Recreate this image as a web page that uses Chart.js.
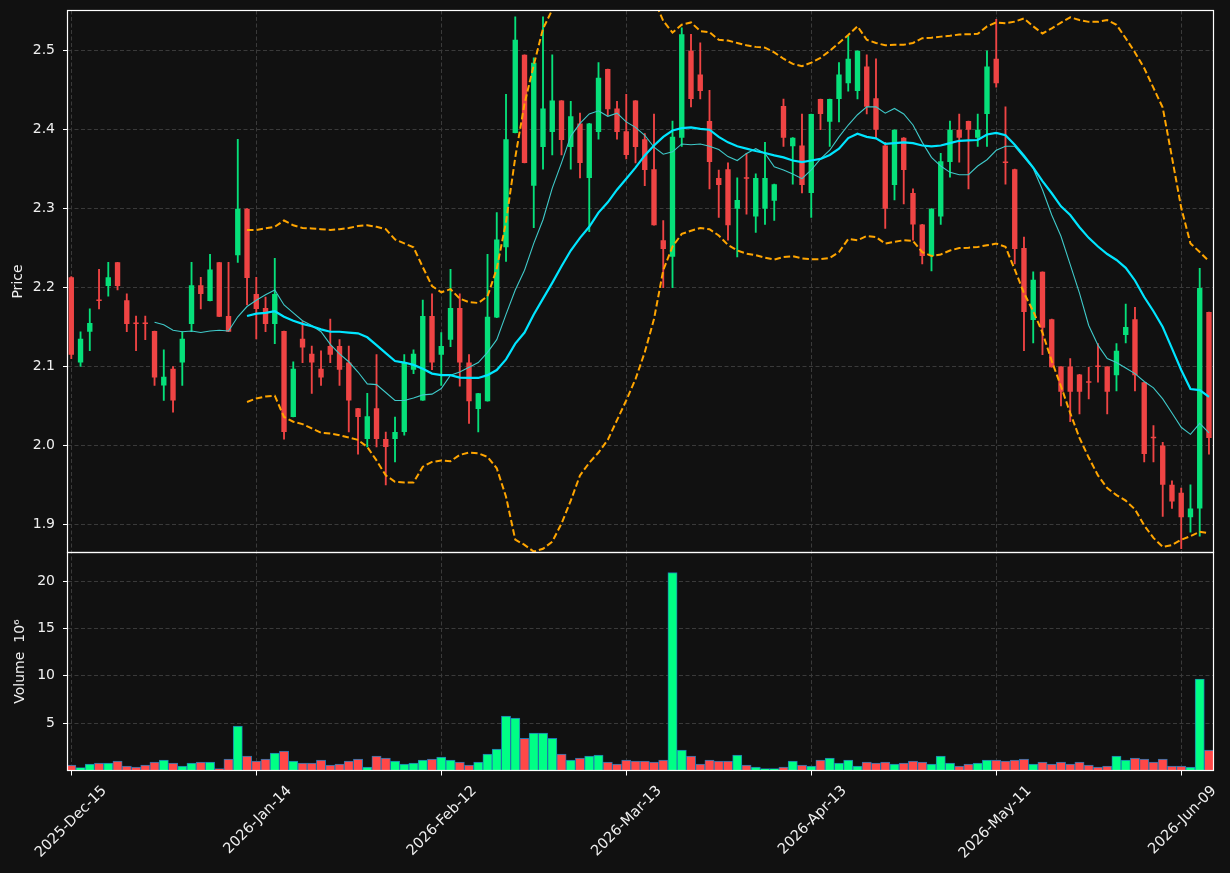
<!DOCTYPE html>
<html>
<head>
<meta charset="utf-8">
<title>Price / Volume</title>
<script src="https://cdn.jsdelivr.net/npm/chart.js@4.4.1/dist/chart.umd.min.js"></script>
<style>
  html, body { margin: 0; padding: 0; background: #111111; }
  #wrap { position: relative; width: 1230px; height: 873px; }
</style>
</head>
<body>
<div id="wrap"><canvas id="chart"></canvas></div>
<script>
// --- DATA (one entry per trading day) ---
const tickIndex = [0, 20, 40, 60, 80, 100, 120];
const tickLabels = ["2025-Dec-15", "2026-Jan-14", "2026-Feb-12", "2026-Mar-13", "2026-Apr-13", "2026-May-11", "2026-Jun-09"];

const opens = [
  2.213, 2.105, 2.144, 2.184, 2.202, 2.232, 2.184, 2.155, 2.155, 2.145,
  2.076, 2.097, 2.105, 2.154, 2.203, 2.183, 2.232, 2.164, 2.241, 2.300,
  2.192, 2.174, 2.154, 2.145, 2.036, 2.135, 2.116, 2.097, 2.126, 2.126,
  2.105, 2.047, 2.008, 2.047, 2.008, 2.008, 2.017, 2.096, 2.057, 2.164,
  2.115, 2.134, 2.174, 2.105, 2.046, 2.056, 2.162, 2.251, 2.396, 2.495,
  2.329, 2.378, 2.397, 2.437, 2.378, 2.408, 2.339, 2.397, 2.477, 2.427,
  2.398, 2.437, 2.388, 2.350, 2.260, 2.239, 2.390, 2.500, 2.470, 2.411,
  2.339, 2.350, 2.300, 2.339, 2.290, 2.300, 2.310, 2.430, 2.379, 2.380,
  2.320, 2.439, 2.410, 2.439, 2.459, 2.449, 2.480, 2.440, 2.380, 2.330,
  2.390, 2.320, 2.280, 2.240, 2.290, 2.359, 2.400, 2.411, 2.390, 2.420,
  2.490, 2.359, 2.350, 2.250, 2.159, 2.220, 2.160, 2.100, 2.100, 2.090,
  2.080, 2.100, 2.100, 2.089, 2.140, 2.160, 2.080, 2.0095, 2.000, 1.950,
  1.940, 1.909, 1.920, 2.169
];
const highs = [
  2.214, 2.144, 2.173, 2.223, 2.232, 2.232, 2.192, 2.164, 2.164, 2.145,
  2.121, 2.100, 2.144, 2.232, 2.213, 2.242, 2.232, 2.232, 2.388, 2.300,
  2.213, 2.188, 2.237, 2.145, 2.106, 2.157, 2.126, 2.120, 2.160, 2.134,
  2.126, 2.047, 2.066, 2.115, 2.017, 2.036, 2.115, 2.121, 2.184, 2.192,
  2.143, 2.223, 2.192, 2.115, 2.066, 2.242, 2.295, 2.445, 2.543, 2.495,
  2.491, 2.543, 2.495, 2.437, 2.436, 2.421, 2.408, 2.485, 2.477, 2.436,
  2.445, 2.437, 2.395, 2.420, 2.285, 2.411, 2.529, 2.521, 2.510, 2.450,
  2.349, 2.358, 2.339, 2.370, 2.344, 2.384, 2.331, 2.439, 2.390, 2.420,
  2.420, 2.439, 2.439, 2.485, 2.519, 2.500, 2.495, 2.490, 2.384, 2.400,
  2.390, 2.325, 2.280, 2.300, 2.370, 2.411, 2.420, 2.411, 2.420, 2.500,
  2.540, 2.429, 2.350, 2.264, 2.220, 2.220, 2.160, 2.100, 2.110, 2.090,
  2.099, 2.129, 2.100, 2.129, 2.179, 2.175, 2.080, 2.025, 2.004, 1.955,
  1.946, 1.950, 2.2245, 2.169
];
const lows = [
  2.110, 2.100, 2.120, 2.173, 2.189, 2.197, 2.144, 2.120, 2.134, 2.076,
  2.057, 2.042, 2.076, 2.144, 2.173, 2.183, 2.163, 2.144, 2.232, 2.178,
  2.135, 2.144, 2.129, 2.008, 2.036, 2.105, 2.066, 2.076, 2.105, 2.076,
  2.017, 1.989, 1.998, 1.998, 1.950, 1.979, 2.013, 2.091, 2.057, 2.096,
  2.076, 2.125, 2.075, 2.028, 2.017, 2.056, 2.162, 2.233, 2.396, 2.358,
  2.276, 2.350, 2.368, 2.368, 2.350, 2.339, 2.271, 2.388, 2.418, 2.388,
  2.363, 2.358, 2.329, 2.279, 2.200, 2.200, 2.379, 2.429, 2.439, 2.325,
  2.289, 2.260, 2.239, 2.293, 2.270, 2.280, 2.285, 2.379, 2.331, 2.320,
  2.289, 2.400, 2.379, 2.410, 2.449, 2.439, 2.420, 2.390, 2.275, 2.311,
  2.306, 2.260, 2.230, 2.221, 2.280, 2.340, 2.359, 2.325, 2.379, 2.379,
  2.454, 2.331, 2.230, 2.120, 2.130, 2.115, 2.099, 2.050, 2.030, 2.040,
  2.059, 2.080, 2.040, 2.069, 2.130, 2.069, 1.979, 1.979, 1.910, 1.920,
  1.869, 1.890, 1.885, 1.989
];
const closes = [
  2.115, 2.135, 2.155, 2.183, 2.213, 2.202, 2.154, 2.154, 2.154, 2.086,
  2.087, 2.057, 2.135, 2.203, 2.192, 2.223, 2.163, 2.144, 2.300, 2.212,
  2.173, 2.154, 2.192, 2.017, 2.097, 2.124, 2.105, 2.086, 2.115, 2.096,
  2.057, 2.036, 2.037, 2.008, 1.998, 2.017, 2.105, 2.116, 2.164, 2.105,
  2.126, 2.174, 2.105, 2.056, 2.066, 2.163, 2.261, 2.388, 2.514, 2.358,
  2.485, 2.427, 2.437, 2.387, 2.417, 2.358, 2.408, 2.466, 2.426, 2.397,
  2.368, 2.378, 2.349, 2.279, 2.249, 2.391, 2.521, 2.439, 2.449, 2.359,
  2.330, 2.279, 2.311, 2.338, 2.339, 2.339, 2.331, 2.390, 2.390, 2.330,
  2.420, 2.420, 2.439, 2.470, 2.490, 2.500, 2.429, 2.400, 2.300, 2.400,
  2.349, 2.280, 2.240, 2.300, 2.360, 2.400, 2.390, 2.400, 2.400, 2.480,
  2.459, 2.358, 2.249, 2.169, 2.210, 2.149, 2.099, 2.068, 2.068, 2.068,
  2.0795, 2.0995, 2.068, 2.120, 2.150, 2.089, 1.989, 2.009, 1.950, 1.929,
  1.909, 1.920, 2.1995, 2.0095
];
// volume in millions of shares
const volumes = [
  0.56, 0.32, 0.67, 0.78, 0.78, 0.99, 0.46, 0.35, 0.56, 0.88,
  1.09, 0.78, 0.46, 0.78, 0.88, 0.88, 0.21, 1.20, 4.69, 1.52,
  0.99, 1.20, 1.84, 2.05, 0.99, 0.78, 0.78, 1.09, 0.56, 0.67,
  0.99, 1.20, 0.35, 1.52, 1.31, 0.99, 0.67, 0.78, 1.09, 1.20,
  1.41, 1.09, 0.88, 0.56, 0.88, 1.73, 2.26, 5.75, 5.54, 3.39,
  3.95, 3.95, 3.39, 1.73, 1.09, 1.31, 1.52, 1.62, 0.88, 0.67,
  1.09, 0.99, 0.99, 0.88, 1.09, 20.9, 2.15, 1.52, 0.67, 1.09,
  0.99, 0.99, 1.62, 0.56, 0.35, 0.21, 0.21, 0.35, 0.99, 0.56,
  0.46, 1.09, 1.31, 0.78, 1.09, 0.46, 0.88, 0.78, 0.88, 0.67,
  0.78, 0.99, 0.88, 0.67, 1.52, 0.78, 0.46, 0.67, 0.78, 1.09,
  1.09, 0.99, 1.09, 1.20, 0.67, 0.88, 0.67, 0.88, 0.67, 0.88,
  0.56, 0.35, 0.46, 1.52, 1.09, 1.31, 1.20, 0.88, 1.20, 0.46,
  0.46, 0.35, 9.67, 2.15
];

// overlay lines (null = not drawn yet)
const ma10 = [
  null, null, null, null, null, null, null, null, null, 2.156,
  2.153, 2.146, 2.144, 2.145, 2.143, 2.145, 2.146, 2.145, 2.163, 2.176,
  2.184, 2.191, 2.197, 2.178, 2.168, 2.158, 2.152, 2.144, 2.128, 2.116,
  2.106, 2.093, 2.078, 2.077, 2.067, 2.057, 2.057, 2.060, 2.064, 2.065,
  2.072, 2.089, 2.093, 2.099, 2.105, 2.118, 2.134, 2.166, 2.197, 2.222,
  2.256, 2.286, 2.326, 2.358, 2.392, 2.408, 2.420, 2.424, 2.417, 2.421,
  2.410, 2.403, 2.393, 2.378, 2.369, 2.372, 2.382, 2.381, 2.382, 2.379,
  2.375, 2.366, 2.361, 2.370, 2.376, 2.370, 2.353, 2.349, 2.344, 2.338,
  2.349, 2.363, 2.374, 2.391, 2.406, 2.419, 2.429, 2.429, 2.421, 2.427,
  2.420, 2.406, 2.384, 2.365, 2.354, 2.346, 2.343, 2.343, 2.354, 2.362,
  2.374, 2.379, 2.379, 2.365, 2.351, 2.324, 2.292, 2.265, 2.229, 2.193,
  2.152, 2.127, 2.110, 2.105, 2.098, 2.091, 2.081, 2.073, 2.059, 2.041,
  2.023, 2.014, 2.028, 2.016
];
const ma20 = [
  null, null, null, null, null, null, null, null, null, null,
  null, null, null, null, null, null, null, null, null, 2.164,
  2.167, 2.168, 2.170, 2.163, 2.158, 2.154, 2.151, 2.147, 2.144, 2.144,
  2.143, 2.142, 2.137, 2.127, 2.117, 2.107, 2.105, 2.102, 2.097, 2.091,
  2.089, 2.089, 2.086, 2.0855, 2.0855, 2.089, 2.0955, 2.109, 2.129, 2.143,
  2.166, 2.186, 2.206, 2.227, 2.247, 2.263, 2.277, 2.295, 2.308, 2.324,
  2.338, 2.352, 2.3675, 2.380, 2.391, 2.399, 2.402, 2.403, 2.401, 2.400,
  2.391, 2.384, 2.379, 2.376, 2.373, 2.3705, 2.3675, 2.365, 2.361, 2.359,
  2.361, 2.363, 2.368, 2.376, 2.3895, 2.395, 2.391, 2.389, 2.382, 2.383,
  2.384, 2.383, 2.380, 2.379, 2.380, 2.383, 2.386, 2.3865, 2.387, 2.394,
  2.396, 2.393, 2.381, 2.367, 2.352, 2.335, 2.3195, 2.303, 2.292, 2.2765,
  2.263, 2.252, 2.2425, 2.235, 2.225, 2.209, 2.188, 2.170, 2.150, 2.123,
  2.0955, 2.0715, 2.070, 2.0615
];
const bbUpper = [
  null, null, null, null, null, null, null, null, null, null,
  null, null, null, null, null, null, null, null, null, 2.273,
  2.273, 2.275, 2.277, 2.285, 2.279, 2.2755, 2.275, 2.274, 2.273, 2.274,
  2.2755, 2.278, 2.279, 2.277, 2.274, 2.261, 2.256, 2.251, 2.226, 2.202,
  2.194, 2.198, 2.186, 2.1815, 2.1805, 2.189, 2.224, 2.283, 2.365, 2.433,
  2.482, 2.528, 2.552, 2.580, 2.600, 2.615, 2.625, 2.635, 2.640, 2.640,
  2.635, 2.620, 2.600, 2.565, 2.538, 2.523, 2.533, 2.536, 2.525, 2.5236,
  2.514, 2.513, 2.510, 2.507, 2.505, 2.504, 2.498, 2.490, 2.4835, 2.4806,
  2.485, 2.491, 2.500, 2.510, 2.520, 2.531, 2.514, 2.510, 2.507, 2.5076,
  2.5076, 2.510, 2.516, 2.5165, 2.518, 2.519, 2.5207, 2.521, 2.5215, 2.531,
  2.536, 2.535, 2.537, 2.541, 2.531, 2.522, 2.5285, 2.5357, 2.5425, 2.539,
  2.5367, 2.5367, 2.539, 2.533, 2.516, 2.498, 2.478, 2.453, 2.428, 2.365,
  2.301, 2.256, 2.245, 2.2335
];
const bbLower = [
  null, null, null, null, null, null, null, null, null, null,
  null, null, null, null, null, null, null, null, null, 2.055,
  2.0595, 2.062, 2.063, 2.036, 2.030, 2.027, 2.0215, 2.016, 2.015, 2.013,
  2.010, 2.007, 1.998, 1.981, 1.962, 1.954, 1.953, 1.953, 1.973, 1.979,
  1.981, 1.980, 1.988, 1.991, 1.990, 1.9855, 1.971, 1.935, 1.8805, 1.874,
  1.8655, 1.869, 1.878, 1.901, 1.930, 1.962, 1.978, 1.991, 2.007, 2.032,
  2.057, 2.084, 2.118, 2.160, 2.222, 2.252, 2.268, 2.272, 2.2755, 2.274,
  2.266, 2.254, 2.247, 2.243, 2.241, 2.238, 2.2354, 2.2388, 2.2397, 2.237,
  2.236, 2.236, 2.2376, 2.245, 2.2616, 2.260, 2.2654, 2.264, 2.2557, 2.258,
  2.260, 2.259, 2.245, 2.240, 2.242, 2.247, 2.250, 2.2506, 2.2515, 2.2536,
  2.2557, 2.2516, 2.223, 2.193, 2.170, 2.143, 2.107, 2.075, 2.041, 2.0095,
  1.9846, 1.962, 1.946, 1.937, 1.930, 1.919, 1.8986, 1.8828, 1.8715, 1.8738,
  1.8805, 1.885, 1.8905, 1.8887
];
const priceTicks = [1.9, 2.0, 2.1, 2.2, 2.3, 2.4, 2.5];
const volumeTicks = [5, 10, 15, 20];

// --- STYLE ---
const FONT = "'DejaVu Sans', 'Liberation Sans', sans-serif";
const TEXT = "#f0f0f0";
const GRID = "#3a3a3a";
const UP = "#06e07a";
const DOWN = "#ef4444";
const VOL_UP = "#00ff85";
const VOL_DOWN = "#ff4848";

// --- BUILD DATASETS ---
const isUp = closes.map((c, i) => c >= opens[i]);
const candleColors = isUp.map((u) => (u ? UP : DOWN));
const volumeColors = isUp.map((u) => (u ? VOL_UP : VOL_DOWN));

function toPoints(values) {
  return values
    .map((v, i) => ({ x: i, y: v }))
    .filter((p) => p.y !== null);
}

function lineSet(values, color, width, dash, order) {
  return {
    type: "line",
    data: toPoints(values),
    yAxisID: "y",
    borderColor: color,
    borderWidth: width,
    borderDash: dash,
    pointRadius: 0,
    tension: 0,
    fill: false,
    order: order,
  };
}

const datasets = [
  lineSet(bbUpper, "#ffa500", 2, [6.5, 3], 1),
  lineSet(bbLower, "#ffa500", 2, [6.5, 3], 1),
  lineSet(ma20, "#00e5ff", 2.2, [], 2),
  lineSet(ma10, "#3fc9c9", 1.1, [], 3),
  {
    // candle bodies
    type: "bar",
    data: opens.map((o, i) => ({ x: i, y: [o, closes[i]] })),
    yAxisID: "y",
    backgroundColor: candleColors,
    borderWidth: 0,
    barPercentage: 0.58,
    categoryPercentage: 1,
    minBarLength: 1.5,
    grouped: false,
    order: 5,
  },
  {
    // wicks
    type: "bar",
    data: lows.map((l, i) => ({ x: i, y: [l, highs[i]] })),
    yAxisID: "y",
    backgroundColor: candleColors,
    borderWidth: 0,
    barThickness: 1.2,
    grouped: false,
    order: 6,
  },
  {
    type: "bar",
    data: volumes.map((v, i) => ({ x: i, y: v })),
    yAxisID: "yVol",
    backgroundColor: volumeColors,
    borderColor: "#1f77b4",
    borderWidth: 0.9,
    borderSkipped: false,
    barPercentage: 1,
    categoryPercentage: 1,
    grouped: false,
    order: 7,
  },
];

// --- PLUGINS ---
const background = {
  id: "background",
  beforeDraw(chart) {
    const ctx = chart.ctx;
    ctx.save();
    ctx.fillStyle = "#111111";
    ctx.fillRect(0, 0, chart.width, chart.height);
    ctx.restore();
  },
};

// white frame round each pane
const paneFrames = {
  id: "paneFrames",
  afterDraw(chart) {
    const ctx = chart.ctx;
    const area = chart.chartArea;
    ctx.save();
    ctx.strokeStyle = "#ffffff";
    ctx.lineWidth = 1.2;
    ["y", "yVol"].forEach((id) => {
      const s = chart.scales[id];
      ctx.strokeRect(area.left, s.top, area.right - area.left, s.bottom - s.top);
    });
    ctx.restore();
  },
};

// stop tick labels from pushing the plot area inwards
function noEdgePadding(axis) {
  axis.paddingTop = 0;
  axis.paddingBottom = 0;
  axis.paddingLeft = 0;
  axis.paddingRight = 0;
}

function yScale(extra) {
  return Object.assign(
    {
      type: "linear",
      position: "left",
      stack: "panes",
      grid: {
        color: GRID,
        lineWidth: 1,
        drawTicks: true,
        tickLength: 4.5,
        tickColor: "#ffffff",
        tickWidth: 1,
        tickBorderDash: [],
      },
      border: { display: false, dash: [4, 2.5] },
      afterFit: (axis) => {
        axis.width = 67.5;
        noEdgePadding(axis);
      },
    },
    extra
  );
}

// --- CHART ---
new Chart(document.getElementById("chart"), {
  type: "bar",
  data: { datasets: datasets },
  options: {
    responsive: true,
    maintainAspectRatio: false,
    animation: false,
    devicePixelRatio: 1,
    layout: { padding: { top: 10.5, right: 16.5, bottom: 0, left: 0 } },
    plugins: {
      legend: { display: false },
      tooltip: { enabled: false },
    },
    scales: {
      x: {
        type: "linear",
        min: -0.41,
        max: 123.49,
        offset: false,
        grid: {
          color: GRID,
          offset: false,
          drawTicks: true,
          tickLength: 5,
          tickColor: "#ffffff",
          tickWidth: 1,
          tickBorderDash: [],
        },
        border: { display: false, dash: [4, 2.5] },
        afterBuildTicks: (axis) => {
          axis.ticks = tickIndex.map((v) => ({ value: v }));
        },
        afterFit: (axis) => {
          axis.height = 102.5;
          noEdgePadding(axis);
        },
        ticks: {
          autoSkip: false,
          minRotation: 45,
          maxRotation: 45,
          labelOffset: 33,
          padding: 7,
          color: TEXT,
          font: { family: FONT, size: 14.5 },
          callback: (v) => {
            const k = tickIndex.indexOf(v);
            return k >= 0 ? tickLabels[k] : "";
          },
        },
      },
      y: yScale({
        weight: 2,
        stackWeight: 542,
        min: 1.8643,
        max: 2.5511,
        afterBuildTicks: (axis) => {
          axis.ticks = priceTicks.map((v) => ({ value: v }));
        },
        ticks: {
          padding: 8,
          color: TEXT,
          font: { family: FONT, size: 14 },
          callback: (v) => v.toFixed(1),
        },
        title: {
          display: true,
          text: "Price",
          color: TEXT,
          font: { family: FONT, size: 14 },
          padding: { top: 9.5, bottom: 0 },
        },
      }),
      yVol: yScale({
        weight: 1,
        stackWeight: 218,
        min: 0,
        max: 23.03,
        afterBuildTicks: (axis) => {
          axis.ticks = volumeTicks.map((v) => ({ value: v }));
        },
        ticks: {
          padding: 8,
          color: TEXT,
          font: { family: FONT, size: 14 },
          callback: (v) => String(v),
        },
        title: {
          display: true,
          text: "Volume  10\u2076",
          color: TEXT,
          font: { family: FONT, size: 14 },
          padding: { top: 11.5, bottom: 0 },
        },
      }),
    },
  },
  plugins: [background, paneFrames],
});
</script>
</body>
</html>
